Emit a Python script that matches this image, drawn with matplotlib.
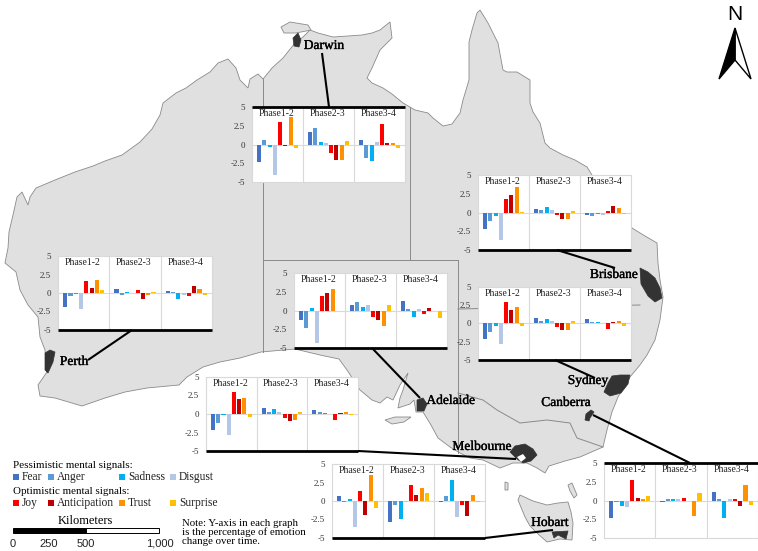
import matplotlib
matplotlib.use('Agg')
import matplotlib.pyplot as plt
from matplotlib.patches import Polygon, Rectangle
import matplotlib.patheffects as pe

# Values: fear, anger, sadness, disgust, joy, anticipation, trust, surprise
emotions = ['Fear', 'Anger', 'Sadness', 'Disgust', 'Joy', 'Anticipation', 'Trust', 'Surprise']
colors = ['#4472c4', '#5b9bd5', '#00b0f0', '#b4c7e7', '#ff0000', '#c00000', '#ff9000', '#ffc000']
phases = ['Phase1-2', 'Phase2-3', 'Phase3-4']
yticks = [-5, -2.5, 0, 2.5, 5]
yticklabels = ['-5', '-2.5', '0', '2.5', '5']

darwin = [[-2.3, 0.6, -0.3, -4.1, 3.0, -0.15, 3.7, -0.5],
          [1.7, 2.2, 0.4, 0.2, -1.1, -2.1, -2.1, 0.5],
          [0.6, -1.8, -2.2, 0.3, 2.8, 0.15, 0.2, -0.4]]
brisbane = [[-2.2, -1.1, -0.4, -3.7, 1.8, 2.3, 3.4, 0.1],
            [0.5, 0.3, 0.7, 0.4, -0.3, -0.9, -0.9, 0.15],
            [-0.35, -0.45, -0.2, -0.35, 0.15, 0.85, 0.65, -0.25]]
sydney = [[-2.1, -1.2, -0.3, -2.8, 3.0, 1.9, 2.2, -0.4],
          [0.8, 0.3, 0.6, 0.3, -0.5, -0.9, -0.85, 0.3],
          [0.6, 0.2, 0.15, 0, -0.8, 0.15, 0.3, -0.3]]
perth = [[-1.9, -0.35, -0.15, -2.1, 1.6, 0.7, 1.75, 0.35],
         [0.6, -0.25, 0.15, 0, 0.4, -0.8, -0.25, 0.1],
         [0.3, 0.1, -0.8, -0.25, -0.4, 0.9, 0.5, -0.3]]
adelaide = [[-1.3, -2.3, 0.3, -4.3, 1.9, 2.3, 2.9, 0],
            [0.7, 1.2, 0.5, 0.8, -0.9, -1.3, -2.0, 0.7],
            [1.25, 0.15, -0.8, 0.2, -0.4, 0.3, -0.1, -1.0]]
melbourne = [[-2.1, -1.2, -0.2, -2.8, 3.0, 2.0, 2.2, -0.35],
             [0.85, 0.3, 0.65, 0.3, -0.5, -0.9, -0.85, 0.3],
             [0.6, 0.25, 0.15, 0, -0.8, 0.15, 0.3, -0.2]]
hobart = [[0.7, -0.2, 0.3, -3.5, 1.4, -1.9, 3.5, -1.0],
          [-2.8, -0.6, -2.4, -0.1, 2.1, 0.8, 1.8, 1.1],
          [-0.15, 0.7, 2.8, -2.2, -0.5, -2.0, 0.8, -0.1]]
canberra = [[-2.3, -0.2, -0.7, -0.8, 2.7, 0.3, 0.15, 0.55],
            [-0.2, 0.2, 0.2, 0.25, 0.3, 0, -2.0, 0.95],
            [1.1, 0.15, -2.3, 0.15, 0.15, -0.7, 2.1, -0.6]]

# map outlines, in picture pixels
mainland = [(263,79),(258,74),(250,79),(248,88),(240,80),(236,68),(228,59),(218,63),(210,72),(197,80),
    (186,88),(176,93),(163,103),(160,115),(152,129),(140,142),(122,155),(105,161),(93,166),(75,172),(55,180),
    (36,188),(30,197),(28,205),(22,192),(17,197),(13,215),(9,232),(8,248),(5,263),(16,272),(20,290),(28,305),
    (38,317),(40,337),(45,350),(47,372),(38,385),(40,396),(55,398),(82,406),(105,398),(125,392),(147,388),
    (179,385),(187,377),(203,367),(220,362),(240,358),(261,352),(295,349),(320,355),(339,359),(347,370),
    (360,390),(372,400),(380,403),(387,397),(393,400),(400,385),(408,373),(403,390),(400,398),(398,408),
    (410,404),(414,400),(416,412),(423,412),(431,425),(438,438),(450,447),(460,453),(470,458),(483,460),
    (500,468),(513,463),(527,463),(537,468),(545,473),(549,466),(565,461),(580,457),(603,447),(607,430),
    (612,412),(618,397),(630,377),(640,365),(647,355),(655,340),(660,320),(663,297),(660,280),(658,263),
    (657,243),(645,236),(632,228),(625,210),(610,195),(592,175),(587,167),(575,160),(563,155),(550,148),
    (545,143),(540,123),(533,112),(530,103),(530,80),(517,72),(507,72),(503,70),(498,43),(488,23),(480,10),
    (477,13),(472,30),(469,42),(469,80),(463,100),(460,113),(452,124),(443,126),(433,118),(428,113),(415,110),
    (403,103),(392,94),(383,88),(372,83),(367,78),(372,68),(380,50),(392,38),(390,22),(380,30),(372,33),
    (362,35),(348,36),(333,37),(318,33),(310,30),(303,37),(295,43),(283,58),(272,68),(268,73)]
melville = [(281,27),(290,22),(308,25),(311,30),(296,33),(284,33)]
tasmania = [(518,500),(520,495),(533,501),(547,505),(558,503),(568,502),(571,512),(573,523),(572,540),
    (560,539),(547,542),(537,533),(530,526),(525,517)]
kangaroo = [(385,420),(395,417),(411,417),(404,422),(392,424)]
king_island = [(505,482),(508,483),(508,490),(505,490)]
flinders = [(568,485),(572,483),(577,495),(574,498),(570,491)]
state_borders = [[(263,79),(263,352)], [(263,260),(458,260)], [(409.5,107),(409.5,260)],
    [(458,260),(458,453)], [(458,309),(640,305)],
    [(458,393),(483,400),(497,410),(520,423),(547,420),(570,423),(577,438),(603,447)]]

cities_dark = [[(293,38),(298,33),(301,40),(299,47),(294,46)],
    [(640,268),(648,272),(655,278),(660,288),(662,298),(655,302),(648,296),(641,284)],
    [(604,392),(608,383),(612,376),(620,375),(630,375),(628,384),(621,393),(610,396)],
    [(586,414),(591,410),(594,412),(590,418),(589,421),(585,420)],
    [(515,446),(525,444),(533,449),(537,455),(531,461),(523,463),(517,459),(510,452)],
    [(417,400),(423,398),(427,404),(424,411),(417,411)],
    [(45,353),(50,350),(55,352),(53,362),(48,373),(45,370)],
    [(552,532),(568,531),(566,539),(558,535),(554,538)]]

# panel box (left, top, right, bottom) in picture pixels, and the thick black edge
panels = [(darwin, (252,107,405,182), 'top'), (brisbane, (478,175,631,250), 'bottom'),
    (sydney, (478,287,631,360), 'bottom'), (perth, (58,256,212,330), 'bottom'),
    (adelaide, (294,273,447,348), 'bottom'), (melbourne, (206,377,358,451), 'bottom'),
    (hobart, (332,464,485,538), 'bottom'), (canberra, (604,463,758,538), 'top')]
leaders = [[(322,53),(329,107)], [(557,250),(615,268)], [(555,360),(595,378)], [(132,330),(88,360)],
    [(372,348),(420,398)], [(358,451),(516,459)], [(593,415),(690,463)], [(485,538),(553,530)]]
city_labels = [('Darwin',324,46), ('Brisbane',614,275), ('Sydney',588,381), ('Canberra',566,403),
    ('Adelaide',451,401), ('Melbourne',482,447), ('Hobart',550,523), ('Perth',74,362)]

W, H = 758, 551
serif = 'Liberation Serif'
land = '#e0e0e0'
edge = '#8a8a8a'

fig = plt.figure(figsize=(W/100, H/100), dpi=100)
ax = fig.add_axes([0, 0, 1, 1], zorder=0)
ax.set_xlim(0, W)
ax.set_ylim(H, 0)
ax.axis('off')

# second full-size axes on top of the small charts, for black edges and lines
top = fig.add_axes([0, 0, 1, 1], zorder=10)
top.set_xlim(0, W)
top.set_ylim(H, 0)
top.axis('off')

for poly in [mainland, melville, tasmania, kangaroo, king_island, flinders]:
    ax.add_patch(Polygon(poly, closed=True, fc=land, ec=edge, lw=0.6, zorder=1))
for b in state_borders:
    ax.plot([p[0] for p in b], [p[1] for p in b], color=edge, lw=0.7, zorder=2)
for poly in cities_dark:
    ax.add_patch(Polygon(poly, closed=True, fc='#333333', ec='#333333', lw=0.5, zorder=3))
ax.add_patch(Polygon([(517,457),(523,454),(526,458),(521,462)], closed=True, fc='white', ec='none', zorder=4))

for l in leaders:
    top.plot([l[0][0], l[1][0]], [l[0][1], l[1][1]], color='black', lw=1.5, solid_capstyle='butt')
for name, x, y in city_labels:
    top.text(x, y, name, family=serif, fontsize=9.7, ha='center', va='center', color='black',
             path_effects=[pe.withStroke(linewidth=0.25, foreground='black')])

# the eight small bar charts
for vals, (x0, y0, x1, y1), thick in panels:
    a = fig.add_axes([x0/W, 1-y1/H, (x1-x0)/W, (y1-y0)/H], zorder=6)
    for g in range(3):
        xs = [i + g*9.7 for i in range(8)]
        a.bar(xs, vals[g], width=0.78, color=colors, zorder=3)
        a.text(xs[0]+3.3, 4.1, phases[g], family=serif, fontsize=7, ha='center', va='center', color='#222222')
        if g > 0:
            a.axvline(xs[0]-1.35, color='#d9d9d9', lw=0.8, zorder=1)
    a.axhline(0, color='#d9d9d9', lw=0.8, zorder=2)
    a.set_xlim(-1.35, 27.75)
    a.set_ylim(-5, 5)
    a.set_xticks([])
    a.set_yticks(yticks)
    a.set_yticklabels(yticklabels, family=serif, fontsize=6.5, color='#333333')
    a.tick_params(axis='y', length=0, pad=5)
    for s in a.spines.values():
        s.set_color('#d9d9d9')
        s.set_linewidth(0.8)
    edge_y = y0 if thick == 'top' else y1
    top.plot([x0, x1], [edge_y, edge_y], color='black', lw=2, solid_capstyle='butt')

# legend
top.text(13, 465, 'Pessimistic mental signals:', family=serif, fontsize=7.9, va='center')
top.text(13, 491, 'Optimistic mental signals:', family=serif, fontsize=7.9, va='center')
square_x = [13, 48, 119, 170]
for i, name in enumerate(emotions):
    row_y = 477 if i < 4 else 503
    sx = square_x[i % 4]
    top.add_patch(Rectangle((sx, row_y-3), 6, 6, fc=colors[i], ec='none'))
    top.text(sx+9, row_y, name, family=serif, fontsize=8.3, va='center', color='#222222')

# scale bar
top.text(85, 521, 'Kilometers', family=serif, fontsize=9, ha='center', va='center')
top.add_patch(Rectangle((13, 528), 73, 5, fc='black', ec='black', lw=0.7))
top.add_patch(Rectangle((86, 528), 73, 5, fc='white', ec='black', lw=0.7))
for label, x in [('0', 13), ('250', 49), ('500', 86), ('1,000', 160)]:
    top.text(x, 544, label, family='Liberation Sans', fontsize=8, ha='center', va='center', color='#222222')

for i, line in enumerate(['Note: Y-axis in each graph', 'is the percentage of emotion', 'change over time.']):
    top.text(182, 523 + i*9.5, line, family=serif, fontsize=7.8, va='center')

# north arrow
top.text(735, 14, 'N', family='Liberation Sans', fontsize=15, ha='center', va='center')
top.add_patch(Polygon([(735,28),(751,79),(735,60)], closed=True, fc='white', ec='black', lw=1))
top.add_patch(Polygon([(735,28),(719,79),(735,60)], closed=True, fc='black', ec='black', lw=1))

fig.savefig('out.png', dpi=100)
